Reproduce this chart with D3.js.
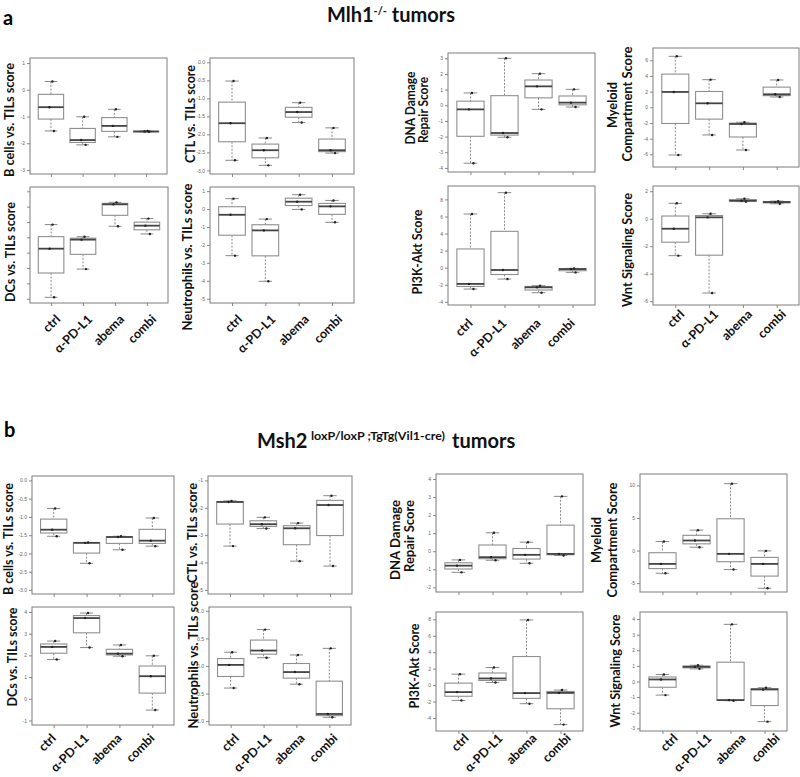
<!DOCTYPE html>
<html><head><meta charset="utf-8">
<script src="https://cdn.jsdelivr.net/npm/d3@7"></script>
<style>
body{margin:0;background:#fff;}
svg{display:block;font-family:Lato,'Open Sans',sans-serif;}
</style>
</head><body>
<svg id="c" width="800" height="777"></svg>
<script>
// ---------------- DATA ----------------
const groups = ["ctrl", "α-PD-L1", "abema", "combi"];

// Section a: Mlh1-/- tumors (three samples per group: ctrl, α-PD-L1, abema, combi)
const mlh1BCells      = [[0.31,-0.65,-1.54],[-1.01,-1.88,-2.06],[-0.73,-1.35,-1.76],[-1.54,-1.56,-1.57]];
const mlh1CTL         = [[-0.52,-1.69,-2.72],[-2.10,-2.44,-2.86],[-1.12,-1.38,-1.67],[-1.82,-2.44,-2.52]];
const mlh1DCs         = [[0.83,-0.74,-3.91],[0.04,-0.15,-2.07],[2.28,2.15,0.72],[1.22,0.76,0.22]];
const mlh1Neutrophils = [[0.58,-0.32,-2.60],[-0.56,-1.19,-4.03],[0.80,0.41,-0.02],[0.48,0.15,-0.74]];
const mlh1DNARepair   = [[0.79,-0.26,-3.70],[3.00,-1.77,-2.04],[2.02,1.21,-0.26],[1.02,0.17,-0.11]];
const mlh1Myeloid     = [[6.51,1.96,-6.09],[3.53,0.51,-3.53],[-1.91,-2.13,-5.45],[3.49,1.66,1.32]];
const mlh1PI3K        = [[6.29,-1.90,-2.50],[8.79,-0.27,-1.33],[-2.11,-2.30,-2.93],[-0.08,-0.16,-0.55]];
const mlh1Wnt         = [[1.12,-0.73,-2.69],[0.36,0.10,-5.41],[1.45,1.31,1.24],[1.28,1.21,1.09]];

// Section b: Msh2 loxP/loxP ;TgTg(Vil1-cre) tumors
const msh2BCells      = [[-0.77,-1.35,-1.53],[-1.70,-1.71,-2.27],[-1.53,-1.55,-1.90],[-1.03,-1.65,-1.80]];
const msh2CTL         = [[-1.75,-1.79,-3.40],[-2.35,-2.60,-2.76],[-2.56,-2.75,-3.95],[-1.56,-1.90,-4.13]];
const msh2DCs         = [[2.66,2.39,1.81],[3.95,3.72,2.36],[2.48,2.08,1.96],[1.98,1.04,-0.52]];
const msh2Neutrophils = [[0.25,0.02,-0.40],[0.66,0.28,0.15],[0.20,-0.11,-0.33],[0.32,-0.87,-0.93]];
const msh2DNARepair   = [[-0.48,-0.80,-1.17],[1.02,-0.33,-0.50],[0.50,-0.20,-0.67],[3.04,-0.15,-0.24]];
const msh2Myeloid     = [[1.38,-2.05,-3.49],[3.13,1.54,0.51],[10.26,-0.51,-2.92],[-0.05,-2.05,-5.79]];
const msh2PI3K        = [[1.33,-0.85,-1.86],[2.14,0.81,0.32],[7.92,-0.97,-2.26],[-0.60,-0.95,-4.80]];
const msh2Wnt         = [[0.45,0.13,-0.87],[1.04,0.94,0.81],[3.66,-1.19,-1.23],[-0.40,-0.51,-2.57]];

// y tick values (tick labels)
const ticksInt1   = [-3,-2,-1,0,1];
const ticksHalf3  = [-3,-2.5,-2,-1.5,-1,-0.5,0];
const ticksDCsA   = [-4,-3,-2,-1,0,1,2,3];
const ticksNeuA   = [-5,-4,-3,-2,-1,0,1];
const ticksDNAA   = [-4,-3,-2,-1,0,1,2,3];
const ticksMyeA   = [-6,-4,-2,0,2,4,6];
const ticksPI3KA  = [-4,-2,0,2,4,6,8];
const ticksWntA   = [-6,-4,-2,0,2];
const ticksCTLB   = [-5,-4,-3,-2,-1];
const ticksDCsB   = [-1,0,1,2,3,4];
const ticksNeuB   = [-1,-0.5,0,0.5,1];
const ticksDNAB   = [-2,-1,0,1,2,3,4];
const ticksMyeB   = [-5,0,5,10];
const ticksPI3KB  = [-4,-2,0,2,4,6,8];
const ticksWntB   = [-3,-2,-1,0,1,2,3,4];

// ---------------- DRAWING ----------------
const svg = d3.select("#c");
const fInt = d => String(d).replace("\u2212","-");
const fOne = d => d3.format(".1f")(d).replace("\u2212","-");

const panels = [
 {data:mlh1BCells, x0:30,x1:167,y0:58,y1:174, dom:[-3.15,1.19], ticks:ticksInt1, fmt:fInt,
  lab:[{t:"B cells vs. TILs score",x:14,cy:120,len:114}]},
 {data:mlh1CTL, x0:210,x1:354,y0:58,y1:174, dom:[-3.10,0.12], ticks:ticksHalf3, fmt:fOne,
  lab:[{t:"CTL vs. TILs score",x:195,cy:114,len:98}]},
 {data:mlh1DCs, x0:30,x1:168,y0:187,y1:303, dom:[-4.28,3.28], ticks:ticksDCsA, fmt:null,
  lab:[{t:"DCs vs. TILs score",x:15,cy:252,len:100}], xl:{dx:10,dy:17}},
 {data:mlh1Neutrophils, x0:210,x1:354,y0:187,y1:303, dom:[-5.24,1.23], ticks:ticksNeuA, fmt:fInt,
  lab:[{t:"Neutrophils vs. TILs score",x:192,cy:257,len:147}], xl:{dx:11,dy:17}},
 {data:mlh1DNARepair, x0:448,x1:595,y0:53,y1:172, dom:[-4.26,3.34], ticks:ticksDNAA, fmt:fInt,
  lab:[{t:"DNA Damage",x:415,cy:108,len:73},{t:"Repair Score",x:428,cy:110,len:66}]},
 {data:mlh1Myeloid, x0:653,x1:799,y0:48,y1:167, dom:[-7.62,7.57], ticks:ticksMyeA, fmt:fInt,
  lab:[{t:"Myeloid",x:617,cy:105,len:46},{t:"Compartment Score",x:632,cy:104,len:115}]},
 {data:mlh1PI3K, x0:448,x1:595,y0:186,y1:305, dom:[-4.37,9.57], ticks:ticksPI3KA, fmt:fInt,
  lab:[{t:"PI3K-Akt Score",x:422,cy:252,len:85}], xl:{dx:3,dy:19}},
 {data:mlh1Wnt, x0:653,x1:799,y0:186,y1:305, dom:[-6.28,2.38], ticks:ticksWntA, fmt:fInt,
  lab:[{t:"Wnt Signaling Score",x:632,cy:250,len:114}], xl:{dx:10,dy:10}},

 {data:msh2BCells, x0:32,x1:174,y0:476,y1:594, dom:[-3.11,0.12], ticks:ticksHalf3, fmt:fOne,
  lab:[{t:"B cells vs. TILs score",x:13,cy:539,len:112}]},
 {data:msh2CTL, x0:208,x1:352,y0:476,y1:594, dom:[-5.15,-0.84], ticks:ticksCTLB, fmt:fInt,
  lab:[{t:"CTL vs. TILs score",x:197,cy:533,len:100}]},
 {data:msh2DCs, x0:32,x1:174,y0:607,y1:725, dom:[-1.21,4.23], ticks:ticksDCsB, fmt:fInt,
  lab:[{t:"DCs vs. TILs score",x:17,cy:657,len:99}], xl:{dx:3,dy:14}},
 {data:msh2Neutrophils, x0:209,x1:351,y0:607,y1:725, dom:[-1.07,1.07], ticks:ticksNeuB, fmt:fOne,
  lab:[{t:"Neutrophils vs. TILs score",x:198,cy:655,len:147}], xl:{dx:9,dy:14}},
 {data:msh2DNARepair, x0:436,x1:583,y0:474,y1:592, dom:[-2.26,4.28], ticks:ticksDNAB, fmt:fInt,
  lab:[{t:"DNA Damage",x:400,cy:540,len:80},{t:"Repair Score",x:414,cy:536,len:72}]},
 {data:msh2Myeloid, x0:640,x1:787,y0:474,y1:592, dom:[-6.36,11.74], ticks:ticksMyeB, fmt:fInt,
  lab:[{t:"Myeloid",x:601,cy:540,len:46},{t:"Compartment Score",x:617,cy:540,len:115}]},
 {data:msh2PI3K, x0:436,x1:583,y0:612,y1:731, dom:[-5.58,8.89], ticks:ticksPI3KB, fmt:fInt,
  lab:[{t:"PI3K-Akt Score",x:419,cy:666,len:85}], xl:{dx:11,dy:8}},
 {data:msh2Wnt, x0:640,x1:787,y0:612,y1:731, dom:[-3.17,4.45], ticks:ticksWntB, fmt:fInt,
  lab:[{t:"Wnt Signaling Score",x:620,cy:671,len:113}], xl:{dx:16,dy:8}}
];

const jitter = [1.5, -1.5, 3];

panels.forEach(p => {
  const g = svg.append("g");
  const x = d3.scaleLinear().domain([0.34, 4.66]).range([p.x0, p.x1]);
  const y = d3.scaleLinear().domain(p.dom).range([p.y1, p.y0]);

  // y axis
  const ya = d3.axisLeft(y).tickValues(p.ticks).tickSize(3).tickPadding(2)
    .tickFormat(p.fmt ? p.fmt : () => "");
  const yg = g.append("g").attr("transform", `translate(${p.x0},0)`).call(ya);
  yg.select(".domain").remove();
  yg.selectAll("line").attr("stroke", "#8a8a8a");
  yg.selectAll("text").attr("font-size", 5).attr("fill", "#666")
    .attr("font-family", "Liberation Sans, Arial, sans-serif");

  // x axis ticks
  const xa = d3.axisBottom(x).tickValues([1,2,3,4]).tickSize(3).tickFormat(() => "");
  const xg = g.append("g").attr("transform", `translate(0,${p.y1})`).call(xa);
  xg.select(".domain").remove();
  xg.selectAll("line").attr("stroke", "#8a8a8a");

  // frame
  g.append("rect").attr("x", p.x0).attr("y", p.y0)
    .attr("width", p.x1 - p.x0).attr("height", p.y1 - p.y0)
    .attr("fill", "none").attr("stroke", "#7d7d7d").attr("stroke-width", 1);

  const hw = x(1.4) - x(1);
  const cw = x(1.2) - x(1);

  p.data.forEach((vals, i) => {
    const s = vals.slice().sort(d3.ascending);
    const q1 = d3.quantile(s, 0.25), med = d3.quantile(s, 0.5), q3 = d3.quantile(s, 0.75);
    const lo = s[0], hi = s[s.length - 1];
    const cx = x(i + 1);
    const bg = g.append("g");
    // whiskers
    bg.append("line").attr("x1", cx).attr("x2", cx).attr("y1", y(hi)).attr("y2", y(q3))
      .attr("stroke", "#8a8a8a").attr("stroke-dasharray", "2,1.5");
    bg.append("line").attr("x1", cx).attr("x2", cx).attr("y1", y(q1)).attr("y2", y(lo))
      .attr("stroke", "#8a8a8a").attr("stroke-dasharray", "2,1.5");
    // caps
    [hi, lo].forEach(v => bg.append("line").attr("x1", cx - cw).attr("x2", cx + cw)
      .attr("y1", y(v)).attr("y2", y(v)).attr("stroke", "#8a8a8a"));
    // box
    bg.append("rect").attr("x", cx - hw).attr("width", 2 * hw)
      .attr("y", y(q3)).attr("height", Math.max(0.5, y(q1) - y(q3)))
      .attr("fill", "#fff").attr("stroke", "#8f8f8f").attr("stroke-width", 1.1);
    // median
    bg.append("line").attr("x1", cx - hw).attr("x2", cx + hw)
      .attr("y1", y(med)).attr("y2", y(med)).attr("stroke", "#444").attr("stroke-width", 1.8);
    // points
    vals.forEach((v, j) => bg.append("circle").attr("cx", cx + jitter[j % 3]).attr("cy", y(v))
      .attr("r", 1.2).attr("fill", "#222"));
  });

  // y label(s)
  p.lab.forEach(l => {
    g.append("text").attr("transform", `translate(${l.x},${l.cy}) rotate(-90)`)
      .attr("text-anchor", "middle").attr("font-weight", 700).attr("font-size", 13)
      .attr("fill", "#111")
      .attr("textLength", l.len).attr("lengthAdjust", "spacingAndGlyphs")
      .text(l.t);
  });

  // x category labels (bottom row only)
  if (p.xl) {
    groups.forEach((gname, i) => {
      g.append("text")
        .attr("transform", `translate(${x(i + 1) + p.xl.dx},${p.y1 + p.xl.dy}) rotate(-45)`)
        .attr("text-anchor", "end").attr("font-weight", 700).attr("font-size", 12.5)
        .attr("fill", "#111").text(gname);
    });
  }
});

// panel letters and titles
svg.append("text").attr("x", 3).attr("y", 25).attr("font-weight", 700).attr("font-size", 20).text("a");
svg.append("text").attr("x", 4).attr("y", 437).attr("font-weight", 700).attr("font-size", 20).text("b");

const tA = svg.append("text").attr("x", 327).attr("y", 22).attr("font-weight", 700).attr("font-size", 20).attr("fill", "#111");
tA.append("tspan").text("Mlh1");
tA.append("tspan").attr("font-size", 11).attr("dy", -7).text("-/-");
tA.append("tspan").attr("dy", 7).text(" tumors");

const tB = svg.append("text").attr("x", 257).attr("y", 448).attr("font-weight", 700).attr("font-size", 20).attr("fill", "#111");
tB.append("tspan").text("Msh2");
tB.append("tspan").attr("x", 311).attr("font-size", 12).attr("dy", -8)
  .attr("textLength", 134).attr("lengthAdjust", "spacingAndGlyphs").text("loxP/loxP ;TgTg(Vil1-cre)");
tB.append("tspan").attr("x", 452).attr("dy", 8).text("tumors");
</script>
</body></html>
